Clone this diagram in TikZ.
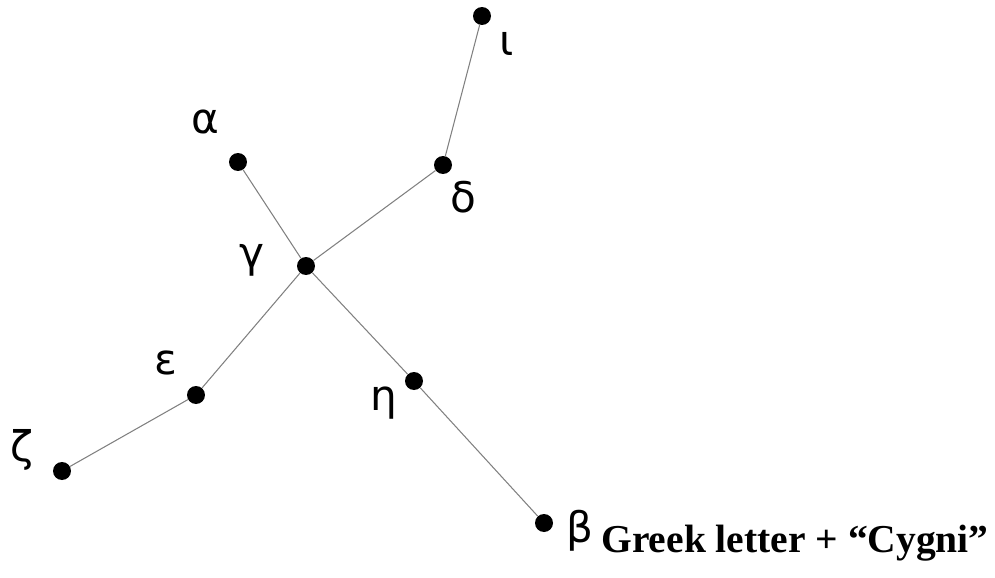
\documentclass[tikz,border=0pt]{standalone}
\usepackage{fontspec}
\setmainfont{Liberation Serif}
\newfontfamily\greekfont{DejaVu Sans}
\usetikzlibrary{positioning}
\tikzset{star/.style={circle,fill=black,inner sep=0pt,minimum size=0.36cm},
  lbl/.style={inner sep=0pt,font=\greekfont\fontsize{24}{24}\selectfont},
  link/.style={black!50,line width=0.6pt}}

\begin{document}
\begin{tikzpicture}[x=0.02cm,y=-0.02cm]
\useasboundingbox (0,0) rectangle (995,578);
% stars
\node[star] (iota) at (482,16){};\node[star] (delta) at (443,165){};
\node[star] (alpha) at (238,162){};\node[star] (gamma) at (306,266){};
\node[star] (eps) at (196,395){};\node[star] (zeta) at (62,471){};
\node[star] (eta) at (414,381){};\node[star] (beta) at (544,523){};
% lines
\draw[link] (iota)--(delta);\draw[link] (delta)--(gamma);
\draw[link] (alpha)--(gamma);\draw[link] (gamma)--(eps);
\draw[link] (eps)--(zeta);\draw[link] (gamma)--(eta);
\draw[link] (eta)--(beta);
% names
\node[lbl] (liota) at (507,44){ι};\node[lbl] (ldelta) at (463,197){δ};
\node[lbl] (lalpha) at (205,122){α};\node[lbl] (lgamma) at (252,260){γ};
\node[lbl] (leps) at (166,363){ε};\node[lbl] (lzeta) at (22,450){ζ};
\node[lbl] (leta) at (384,403){η};\node[lbl] (lbeta) at (580,531){β};
\node[anchor=base west,inner sep=0pt,font=\bfseries\fontsize{22.5}{22.5}\selectfont] (note) at (601,552){Greek letter + “Cygni”};
\end{tikzpicture}
\end{document}
